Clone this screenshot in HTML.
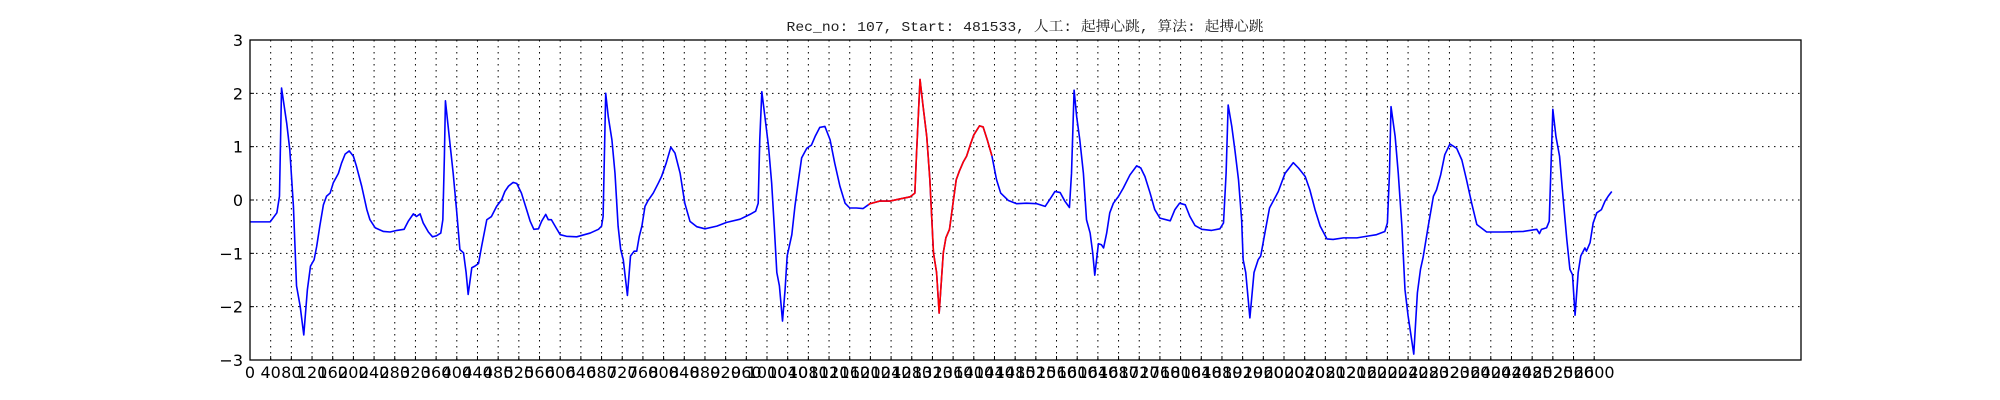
<!DOCTYPE html>
<html><head><meta charset="utf-8">
<style>
html,body{margin:0;padding:0;background:#fff;}
svg{display:block;}
.tick{font-family:"DejaVu Sans","Liberation Sans",sans-serif;font-size:16px;fill:#000;}
</style></head>
<body>
<svg id="chart" width="2000" height="400" viewBox="0 0 2000 400" xmlns="http://www.w3.org/2000/svg">
<rect x="0" y="0" width="2000" height="400" fill="#fff"/>
<text x="1025" y="31" text-anchor="middle" textLength="477" lengthAdjust="spacingAndGlyphs" style="font-family:'Liberation Mono','Noto Serif CJK SC',monospace;font-size:14px;fill:#222">Rec_no: 107, Start: 481533, 人工: 起搏心跳, 算法: 起搏心跳</text>
<g id="grid"></g>
<g id="lines"></g>
<rect x="250" y="40" width="1551" height="320" fill="none" stroke="#000" stroke-width="1.3"/>
<g id="ticks"></g>
</svg>
<script>
const sampleIdx = [0,39,52,57,61,71,77,84,90,97,104,111,117,124,129,135,142,148,155,161,171,177,184,192,200,206,216,226,232,242,258,271,284,298,306,316,322,329,335,345,353,361,369,373,376,378,386,393,400,406,413,418,422,429,435,442,448,458,467,477,487,493,500,509,516,525,535,542,549,558,564,572,577,583,592,600,612,632,
658,674,680,683,688,693,700,706,712,717,722,730,736,743,748,753,758,764,770,780,790,796,805,814,822,832,841,851,864,880,903,922,948,967,978,983,986,990,996,1003,1009,1014,1019,1024,1030,1035,1039,1048,1054,1061,1067,1077,1086,1093,1102,1112,1122,1131,1141,1151,1160,1173,1186,1196,
1199,1218,1238,1257,1277,1286,1289,1296,1302,1309,1315,1322,1328,1333,1341,1346,1353,1359,1366,1372,1380,1386,1393,1400,1411,1418,1426,1435,
1444,1452,1467,1483,1502,1522,1538,1547,1557,1567,1576,1585,1589,1594,1599,1605,1612,1618,1625,1630,1634,1641,1647,1651,1657,1663,1670,1680,1689,1702,1715,1723,1731,1741,1750,1760,1780,1789,1798,1809,1818,1828,1841,1860,1876,1883,1888,1892,1899,1905,1912,1918,1921,1926,1934,1942,1950,1955,1963,1972,
1989,2002,2018,2028,2041,2050,2060,2070,2083,2095,2115,2141,2160,2179,2195,2200,2204,2207,2215,2221,2228,2234,2240,2251,2258,2264,2269,2279,2289,2295,2303,2311,2321,2334,2344,2353,2363,2373,2392,2424,2463,2489,2494,2498,2508,2513,2516,2520,2526,2533,2539,2547,2553,2558,2563,2569,2574,2582,2585,2592,2598,2605,2614,2621,2627,2634];
const ecgValues = [-0.41,-0.41,-0.24,0.07,2.1,1.44,0.94,-0.12,-1.61,-1.99,-2.53,-1.68,-1.24,-1.12,-0.87,-0.49,-0.09,0.07,0.13,0.32,0.5,0.69,0.86,0.92,0.82,0.63,0.26,-0.18,-0.37,-0.52,-0.59,-0.6,-0.57,-0.55,-0.4,-0.26,-0.31,-0.26,-0.43,-0.6,-0.69,-0.67,-0.62,-0.37,0.82,1.86,1.13,0.5,-0.24,-0.93,-0.99,-1.36,-1.77,-1.27,-1.24,-1.19,-0.87,-0.37,-0.31,-0.12,0.01,0.16,0.26,0.33,0.31,0.13,-0.18,-0.4,-0.55,-0.54,-0.4,-0.27,-0.37,-0.37,-0.52,-0.65,-0.68,-0.69,
-0.62,-0.55,-0.49,-0.31,2.0,1.56,1.13,0.5,-0.49,-0.93,-1.12,-1.79,-1.05,-0.96,-0.96,-0.68,-0.49,-0.12,-0.01,0.13,0.32,0.44,0.69,0.99,0.88,0.5,-0.06,-0.4,-0.5,-0.54,-0.49,-0.42,-0.36,-0.27,-0.21,-0.06,1.13,2.03,1.56,1.0,0.32,-0.49,-1.36,-1.61,-2.27,-1.68,-1.05,-0.65,-0.12,0.38,0.79,0.97,1.03,1.19,1.36,1.38,1.13,0.69,0.26,-0.06,-0.15,-0.15,-0.16,-0.09,
-0.07,-0.02,-0.02,0.02,0.06,0.13,0.82,2.26,1.75,1.19,0.38,-0.99,-1.36,-2.12,-0.99,-0.71,-0.55,-0.12,0.38,0.54,0.72,0.82,1.03,1.22,1.39,1.37,1.13,0.83,
0.38,0.13,-0.01,-0.07,-0.06,-0.07,-0.12,0.01,0.16,0.14,-0.02,-0.14,0.5,2.06,1.56,1.13,0.5,-0.37,-0.62,-0.99,-1.41,-0.82,-0.84,-0.9,-0.62,-0.24,-0.06,0.07,0.22,0.47,0.64,0.6,0.44,0.13,-0.18,-0.34,-0.39,-0.18,-0.06,-0.09,-0.31,-0.48,-0.55,-0.57,-0.54,-0.43,0.5,1.78,1.38,0.94,0.38,-0.37,-1.12,-1.36,-2.21,-1.36,-1.12,-1.05,-0.62,-0.15,
0.16,0.5,0.7,0.6,0.44,0.19,-0.18,-0.49,-0.73,-0.74,-0.71,-0.71,-0.68,-0.65,-0.59,-0.43,0.5,1.75,1.19,0.5,-0.49,-1.68,-2.17,-2.89,-1.74,-1.3,-1.08,-0.49,0.07,0.19,0.47,0.85,1.05,0.97,0.75,0.38,-0.06,-0.46,-0.6,-0.6,-0.59,-0.55,-0.63,-0.55,-0.52,-0.4,0.5,1.7,1.19,0.82,0.13,-0.74,-1.3,-1.4,-2.16,-1.36,-1.05,-0.9,-0.96,-0.8,-0.43,-0.24,-0.18,-0.02,0.07,0.16];
const highlightRange = [1196, 1435];
const yTicks = [-3,-2,-1,0,1,2,3];
const xTickStep = 40;
const xTickMax = 2600;

const X0=250, X1=1801, Y0=40, Y1=360, XMAX=3000, YMIN=-3, YMAX=3;
const sx = v => X0 + (v/XMAX)*(X1-X0);
const sy = v => Y1 - (v-YMIN)/(YMAX-YMIN)*(Y1-Y0);
const NS='http://www.w3.org/2000/svg';
const grid=document.getElementById('grid'), lines=document.getElementById('lines'), ticks=document.getElementById('ticks');
function mk(tag, attrs, parent){const e=document.createElementNS(NS,tag);for(const k in attrs)e.setAttribute(k,attrs[k]);parent.appendChild(e);return e;}

for(let v=xTickStep; v<=xTickMax; v+=xTickStep){
  const g=mk('line',{x1:sx(v),x2:sx(v),y1:Y0,y2:Y1,stroke:'#000','stroke-width':1,'stroke-dasharray':'1.5,4.5'},grid);
  
  
}
yTicks.forEach(v=>{
  if(v>YMIN && v<YMAX){
    const g=mk('line',{x1:X0,x2:X1,y1:sy(v),y2:sy(v),stroke:'#000','stroke-width':1,'stroke-dasharray':'1.5,4.5'},grid);
    
    
  }
  const t=mk('text',{x:X0-7,y:sy(v)+6,'text-anchor':'end','class':'tick'},ticks);
  t.textContent = v<0 ? '\u2212'+Math.abs(v) : String(v);
  
  
  const m=mk('line',{x1:X0,x2:X0+4,y1:sy(v),y2:sy(v),stroke:'#000'},ticks);
  
  
});
for(let v=0; v<=xTickMax; v+=xTickStep){
  const t=mk('text',{x:sx(v),y:378,'text-anchor':'middle','class':'tick'},ticks);
  t.textContent=String(v);
  
  
  const m=mk('line',{x1:sx(v),x2:sx(v),y1:Y1,y2:Y1-4,stroke:'#000'},ticks);
  
  
}
function path(filter){
  let d='';
  sampleIdx.forEach((s,i)=>{ if(filter(s)) d += (d?'L':'M') + sx(s).toFixed(2)+','+sy(ecgValues[i]).toFixed(2); });
  return d;
}
const blue=mk('path',{d:path(()=>true),fill:'none',stroke:'#0000ff','stroke-width':1.6,'stroke-linejoin':'round'},lines);


const red=mk('path',{d:path(s=>s>=highlightRange[0]&&s<=highlightRange[1]),fill:'none',stroke:'#ff0000','stroke-width':1.6,'stroke-linejoin':'round'},lines);


</script>
</body></html>
